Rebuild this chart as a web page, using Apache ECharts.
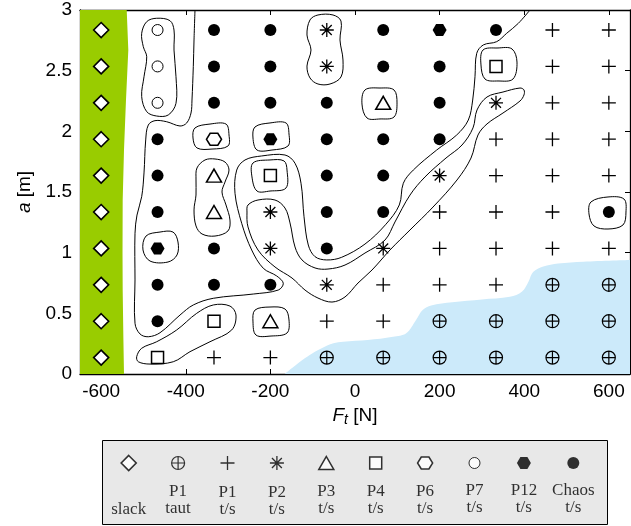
<!DOCTYPE html>
<html><head><meta charset="utf-8">
<script src="https://cdn.jsdelivr.net/npm/echarts@6/dist/echarts.min.js"></script>
<style>html,body{margin:0;padding:0;background:#fff}#c{width:631px;height:526px}</style>
</head><body><div id="c"></div>
<script>
// ---------------- data ----------------
const xCols = [-600, -466.7, -333.3, -200, -66.7, 66.7, 200, 333.3, 466.7, 600];
const yRows = [2.835, 2.535, 2.235, 1.935, 1.635, 1.335, 1.035, 0.735, 0.435, 0.135];
const S = 'slack', T = 'P1taut', O = 'P1ts', C = 'chaos';
const regimeRows = [
  [S, 'P7', C, C, 'P2', C, 'P12', C, O, O],
  [S, 'P7', C, C, 'P2', C, C, 'P4', O, O],
  [S, 'P7', C, C, C, 'P3', C, 'P2', O, O],
  [S, C, 'P6', 'P12', C, C, C, O, O, O],
  [S, C, 'P3', 'P4', C, C, 'P2', O, O, O],
  [S, C, 'P3', 'P2', C, C, O, O, O, C],
  [S, 'P12', C, 'P2', C, 'P2', O, O, O, O],
  [S, C, C, C, 'P2', O, O, O, T, T],
  [S, C, 'P4', 'P3', O, O, T, T, T, T],
  [S, 'P4', O, O, T, T, T, T, T, T]
];
const xTicks = [-600, -400, -200, 0, 200, 400, 600];
const regimes = ['slack', 'P1taut', 'P1ts', 'P2', 'P3', 'P4', 'P6', 'P7', 'P12', 'chaos'];
const legendLine1 = ['\u00a0', 'P1', 'P1', 'P2', 'P3', 'P4', 'P6', 'P7', 'P12', 'Chaos'];
const legendLine2 = ['slack', 'taut', 't/s', 't/s', 't/s', 't/s', 't/s', 't/s', 't/s', 't/s'];

// region boundaries (value space)
const slackEdge = [[-539.6, 3.0], [-535.8, 2.67], [-541.3, 2.258], [-546, 1.846], [-549.1, 1.434], [-549.5, 1.0], [-549.1, 0.692], [-547.5, 0.3], [-546, 0]];
const tautEdge = [[-166, 0], [-130, 0.10], [-107, 0.156], [-80, 0.21], [-51, 0.253], [-28, 0.266], [30, 0.28], [90, 0.307], [121, 0.335], [145, 0.45], [160, 0.527], [180, 0.565], [230, 0.592], [300, 0.615], [366, 0.636], [395, 0.68], [410, 0.76], [421, 0.84], [445, 0.885], [480, 0.91], [540, 0.926], [650, 0.94]];

// contour lines (value space)
const chaosEdge = [[-378.2, 3.0], [-380.5, 2.753], [-382.2, 2.533], [-385.3, 2.258], [-387.6, 2.151], [-397.8, 2.069], [-413.6, 2.044], [-445.1, 2.079], [-472.7, 2.088], [-488.6, 2.052], [-494.7, 1.929], [-498.7, 1.657], [-504.2, 1.461], [-515.3, 1.31], [-520, 1.16], [-520, 0.775], [-520, 0.418], [-508.2, 0.33], [-488.6, 0.307], [-460.9, 0.34], [-413.6, 0.486], [-382.2, 0.569], [-334.9, 0.624], [-240.4, 0.659], [-181.3, 0.692], [-169.5, 0.748], [-185.1, 0.808], [-216.7, 0.871], [-244.2, 1.022], [-267.8, 1.242], [-283.6, 1.489], [-279.6, 1.681], [-260, 1.764], [-220.5, 1.797], [-165.5, 1.805], [-141.8, 1.737], [-127.6, 1.572], [-120.5, 1.296], [-110.4, 1.063], [-94.5, 0.967], [-66.9, 0.94], [-31.4, 0.962], [23.6, 1.071], [72, 1.23], [104.7, 1.393], [114.2, 1.572], [137.8, 1.681], [193.1, 1.846], [240.4, 1.97], [267.8, 2.093], [278.2, 2.258], [283.6, 2.45], [287.7, 2.643], [303.2, 2.712], [334.9, 2.739], [358.5, 2.808], [386, 2.89], [413.6, 3.0]];
const p2Strip = [[-255.3, 1.335], [-252.9, 1.393], [-229.3, 1.434], [-189.1, 1.434], [-165.5, 1.368], [-153.6, 1.245], [-141.8, 1.047], [-125.3, 0.94], [-94.5, 0.874], [-63.8, 0.865], [-23.6, 0.898], [23.6, 0.997], [70.9, 1.104], [94.5, 1.253], [130, 1.475], [165.4, 1.624], [215.1, 1.78], [252.9, 1.887], [278.9, 2.028], [288.4, 2.176], [312, 2.283], [349.8, 2.324], [390, 2.357], [399.4, 2.341], [399.4, 2.3], [390, 2.25], [349.8, 2.151], [312, 2.061], [290.7, 1.97], [274.2, 1.78], [241.1, 1.599], [184.4, 1.376], [130, 1.187], [82.7, 1.022], [40.2, 0.857], [7.1, 0.75], [-23.6, 0.635], [-54.4, 0.593], [-87.5, 0.626], [-118.2, 0.692], [-148.9, 0.791], [-189.1, 0.882], [-229.3, 1.022], [-252.9, 1.212]];
const p7Loop = [[-492.3, 2.904], [-504.2, 2.808], [-500.4, 2.698], [-492.3, 2.615], [-498.7, 2.45], [-504.2, 2.286], [-492.3, 2.162], [-468.7, 2.126], [-441.3, 2.135], [-423.1, 2.231], [-423.1, 2.45], [-427.8, 2.67], [-427.8, 2.835], [-437.3, 2.912], [-468.7, 2.932]];
const p2TopLoop = [[-87.5, 2.959], [-52, 2.959], [-33.1, 2.909], [-35.5, 2.753], [-28.4, 2.588], [-33.1, 2.448], [-59.1, 2.39], [-87.5, 2.39], [-106.4, 2.44], [-113.5, 2.538], [-104, 2.67], [-113.5, 2.794], [-106.4, 2.918]];
const p6Loop = [[-378.2, 2.028], [-342.7, 2.06], [-304.9, 2.06], [-297.8, 1.97], [-300.2, 1.879], [-338, 1.854], [-373.5, 1.863], [-382.9, 1.945]];
const p12Loop = [[-236.4, 2.036], [-200.9, 2.069], [-163.1, 2.069], [-156, 1.978], [-158.4, 1.879], [-196.2, 1.846], [-231.6, 1.846], [-241.1, 1.945]];
const p4MidLoop = [[-241.1, 1.739], [-200.9, 1.764], [-167.8, 1.756], [-160.7, 1.681], [-163.1, 1.533], [-200.9, 1.508], [-231.6, 1.508], [-243.5, 1.624]];
const p3LeftLoop = [[-354.5, 1.764], [-330.9, 1.772], [-307.3, 1.747], [-297.8, 1.681], [-307.3, 1.582], [-314.4, 1.5], [-304.9, 1.393], [-295.5, 1.269], [-300.2, 1.179], [-330.9, 1.137], [-361.6, 1.154], [-375.8, 1.22], [-380.5, 1.352], [-375.8, 1.475], [-375.8, 1.599], [-373.5, 1.698]];
const p12LeftLoop = [[-494, 1.137], [-460.9, 1.17], [-430.2, 1.17], [-418.4, 1.088], [-420.7, 0.981], [-442, 0.923], [-484.5, 0.931], [-501.1, 1.022]];
const p4BottomLoop = [[-516, 0.143], [-504.2, 0.212], [-468.7, 0.266], [-421.4, 0.363], [-374.2, 0.5], [-334.9, 0.569], [-295.5, 0.56], [-281.3, 0.486], [-291.4, 0.363], [-342.7, 0.266], [-390, 0.184], [-429.5, 0.101], [-484.5, 0.082], [-512.2, 0.101]];
const p3BottomLoop = [[-236.4, 0.527], [-200.9, 0.552], [-165.5, 0.536], [-156, 0.445], [-160.7, 0.338], [-198.5, 0.313], [-234, 0.321], [-241.1, 0.429]];
const p3TopLoop = [[23.6, 2.341], [59.1, 2.357], [92.2, 2.341], [99.3, 2.234], [92.2, 2.118], [59.1, 2.102], [28.4, 2.11], [16.5, 2.225]];
const p4TopLoop = [[302.5, 2.67], [338, 2.687], [371.1, 2.679], [382.9, 2.571], [373.4, 2.431], [338, 2.415], [307.3, 2.431], [297.8, 2.547]];
const chaosRightLoop = [[557.8, 1.418], [598, 1.459], [635.8, 1.442], [640.5, 1.335], [633.4, 1.228], [598, 1.195], [564.9, 1.22], [553.1, 1.319]];

// ---------------- styles ----------------
const HEX = 'path://M-10,0L-5,-8.66L5,-8.66L10,0L5,8.66L-5,8.66Z';
const PLUS = 'path://M-10,0L10,0M0,-10L0,10';
const STAR = 'path://M0,-10L0,10M-10,0L10,0M-7.07,-7.07L7.07,7.07M-7.07,7.07L7.07,-7.07';
const OPLUS = 'path://M10,0A10,10,0,1,1,-10,0A10,10,0,1,1,10,0ZM-10,0L10,0M0,-10L0,10';
const NOFILL = 'rgba(0,0,0,0)';
const styleOf = {
  slack: { symbol: 'diamond', size: [15, 15], fill: '#fff', bw: 1.6 },
  P1taut: { symbol: OPLUS, size: 13, fill: NOFILL, bw: 1.2 },
  P1ts: { symbol: PLUS, size: 14, fill: NOFILL, bw: 1.3 },
  P2: { symbol: STAR, size: 14, fill: NOFILL, bw: 1.3 },
  P3: { symbol: 'triangle', size: [15, 13], fill: '#fff', bw: 1.5 },
  P4: { symbol: 'rect', size: 12, fill: '#fff', bw: 1.5 },
  P6: { symbol: HEX, size: [15, 12], fill: '#fff', bw: 1.5 },
  P7: { symbol: 'circle', size: 11, fill: '#fff', bw: 1 },
  P12: { symbol: HEX, size: [14, 12], fill: '#000', bw: 0 },
  chaos: { symbol: 'circle', size: 12, fill: '#000', bw: 0 }
};

const series = [];
// slack (green) region
series.push({
  type: 'custom', xAxisIndex: 0, yAxisIndex: 0, clip: true, z: 1, silent: true,
  data: [[-600, 0]],
  renderItem: (p, api) => ({
    type: 'polygon',
    shape: { points: [[-650, 3]].concat(slackEdge, [[-650, 0]]).map(q => api.coord(q)) },
    style: { fill: '#99cc00', stroke: null }
  })
});
// taut (blue) region
series.push({
  type: 'line', xAxisIndex: 0, yAxisIndex: 0, data: tautEdge, smooth: 0.35,
  symbol: 'none', lineStyle: { width: 0, color: '#cceafa' },
  areaStyle: { color: '#cceafa', opacity: 1, origin: 'start' }, z: 1, silent: true
});
function contour(pts, closed) {
  series.push({
    type: 'custom', xAxisIndex: 0, yAxisIndex: 0, clip: true, z: 3, silent: true,
    data: [pts[0]],
    renderItem: (p, api) => ({
      type: closed ? 'polygon' : 'polyline',
      shape: { points: pts.map(q => api.coord(q)), smooth: 0.35 },
      style: { fill: null, stroke: '#000', lineWidth: 1 }
    })
  });
}
contour(chaosEdge, false);
[p2Strip, p7Loop, p2TopLoop, p6Loop, p12Loop, p4MidLoop, p3LeftLoop, p12LeftLoop,
 p4BottomLoop, p3BottomLoop, p3TopLoop, p4TopLoop, chaosRightLoop].forEach(l => contour(l, true));

regimes.forEach(reg => {
  const st = styleOf[reg];
  const pts = [];
  regimeRows.forEach((row, r) => row.forEach((v, c) => { if (v === reg) pts.push([xCols[c], yRows[r]]); }));
  series.push({
    type: 'scatter', xAxisIndex: 0, yAxisIndex: 0, data: pts, z: 5, silent: true,
    symbol: st.symbol, symbolSize: st.size,
    itemStyle: { color: st.fill, borderColor: '#000', borderWidth: st.bw, opacity: 1 }
  });
});
// legend symbols
series.push({
  type: 'scatter', xAxisIndex: 2, yAxisIndex: 2, z: 5, silent: true,
  data: regimes.map((reg, i) => {
    const st = styleOf[reg];
    return {
      value: [i, 0.5], symbol: st.symbol, symbolSize: st.size,
      itemStyle: { color: st.fill, borderColor: '#000', borderWidth: st.bw },
      label: { formatter: legendLine1[i] + '\n' + legendLine2[i] }
    };
  }),
  label: {
    show: true, position: 'bottom', distance: 13, color: '#000',
    fontFamily: 'Liberation Serif', fontSize: 17, lineHeight: 17
  }
});

const axisCommon = {
  axisLine: { show: true, onZero: false, lineStyle: { color: '#000', width: 1.3 } },
  splitLine: { show: false }
};
const labelFont = { color: '#000', fontFamily: 'Liberation Sans', fontSize: 19 };

const option = {
  backgroundColor: '#fff',
  animation: false,
  grid: [
    { left: 80, top: 10, width: 550, height: 364, outerBoundsMode: 'none' },
    { left: 104, top: 455, width: 494, height: 16, outerBoundsMode: 'none' }
  ],
  xAxis: [
    Object.assign({
      type: 'value', gridIndex: 0, min: -650, max: 650, position: 'bottom',
      axisTick: { show: true, inside: true, length: 5, customValues: xTicks, lineStyle: { color: '#000' } },
      axisLabel: Object.assign({ customValues: xTicks, margin: 8 }, labelFont),
      name: '{i|F}{s|t}{n| [N]}', nameLocation: 'middle', nameGap: 25,
      nameTextStyle: {
        color: '#000', fontFamily: 'Liberation Sans', fontSize: 19,
        rich: {
          i: { fontStyle: 'italic', fontSize: 19, fontFamily: 'Liberation Sans', color: '#000' },
          s: { fontStyle: 'italic', fontSize: 14, fontFamily: 'Liberation Sans', color: '#000', padding: [10, 0, 0, 0] },
          n: { fontSize: 19, fontFamily: 'Liberation Sans', color: '#000' }
        }
      }
    }, axisCommon),
    Object.assign({
      type: 'value', gridIndex: 0, min: -650, max: 650, position: 'top',
      axisTick: { show: true, inside: true, length: 5, customValues: xTicks, lineStyle: { color: '#000' } },
      axisLabel: { show: false }
    }, axisCommon),
    { type: 'category', gridIndex: 1, data: regimes, show: false, boundaryGap: true }
  ],
  yAxis: [
    Object.assign({
      type: 'value', gridIndex: 0, min: 0, max: 3, interval: 0.5, position: 'left',
      axisTick: { show: true, inside: true, length: 5, lineStyle: { color: '#000' } },
      axisLabel: Object.assign({ margin: 8 }, labelFont),
      name: '{i|a} [m]', nameLocation: 'middle', nameGap: 45,
      nameTextStyle: {
        color: '#000', fontFamily: 'Liberation Sans', fontSize: 19,
        rich: { i: { fontStyle: 'italic', fontSize: 19, fontFamily: 'Liberation Sans', color: '#000' } }
      }
    }, axisCommon),
    Object.assign({
      type: 'value', gridIndex: 0, min: 0, max: 3, interval: 0.5, position: 'right',
      axisTick: { show: true, inside: true, length: 5, lineStyle: { color: '#000' } },
      axisLabel: { show: false }
    }, axisCommon),
    { type: 'value', gridIndex: 1, min: 0, max: 1, show: false }
  ],
  graphic: [{
    type: 'rect', z: -10, silent: true,
    shape: { x: 102.5, y: 440.5, width: 505, height: 84 },
    style: { fill: '#e8e8e8', stroke: '#000', lineWidth: 1 }
  }],
  series: series
};
const chart = echarts.init(document.getElementById('c'), null, { renderer: 'canvas' });
chart.setOption(option);
</script></body></html>
